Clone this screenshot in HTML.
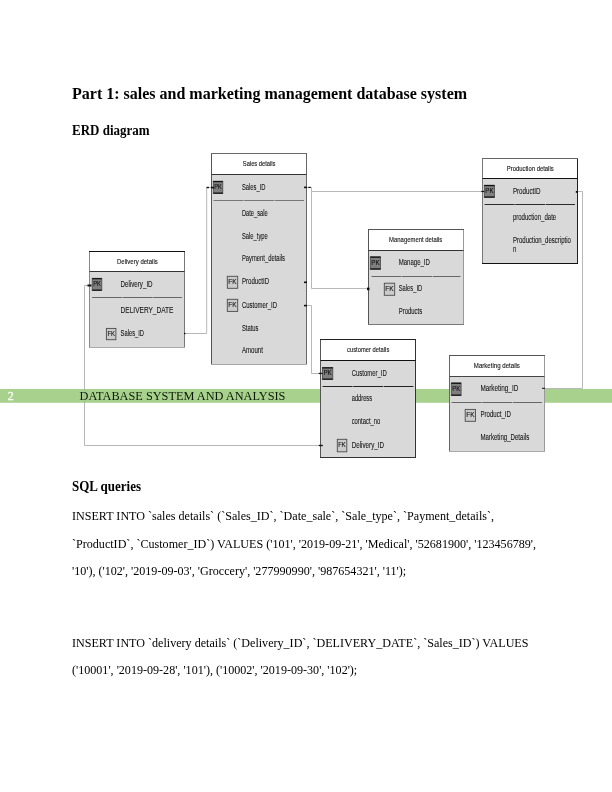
<!DOCTYPE html>
<html><head><meta charset="utf-8">
<style>
html,body{margin:0;padding:0;background:#fff;}
body{width:612px;height:792px;position:relative;overflow:hidden;}
.t{position:absolute;will-change:transform;left:72px;white-space:pre;font-family:"Liberation Serif",serif;color:#000;line-height:1;}
.b{font-weight:bold;}
svg{position:absolute;left:0;top:0;}
svg text{font-family:"Liberation Sans",sans-serif;}
</style></head><body>
<div class="t b" style="top:86.10px;font-size:16px;height:16px;">Part 1: sales and marketing management database system</div>
<div class="t b" style="top:123.91px;font-size:13px;height:13px;transform:scaleY(1.12);transform-origin:0 10.89px;">ERD diagram</div>
<div class="t b" style="top:479.71px;font-size:13px;height:13px;transform:scaleY(1.12);transform-origin:0 10.89px;">SQL queries</div>
<div class="t" style="top:509.95px;font-size:12px;height:12px;transform:scaleX(1.007);transform-origin:0 0;">INSERT INTO `sales details` (`Sales_ID`, `Date_sale`, `Sale_type`, `Payment_details`,</div>
<div class="t" style="top:537.65px;font-size:12px;height:12px;transform:scaleX(1.007);transform-origin:0 0;">`ProductID`, `Customer_ID`) VALUES (&#x27;101&#x27;, &#x27;2019-09-21&#x27;, &#x27;Medical&#x27;, &#x27;52681900&#x27;, &#x27;123456789&#x27;,</div>
<div class="t" style="top:565.25px;font-size:12px;height:12px;transform:scaleX(1.007);transform-origin:0 0;">&#x27;10&#x27;), (&#x27;102&#x27;, &#x27;2019-09-03&#x27;, &#x27;Groccery&#x27;, &#x27;277990990&#x27;, &#x27;987654321&#x27;, &#x27;11&#x27;);</div>
<div class="t" style="top:636.55px;font-size:12px;height:12px;transform:scaleX(1.007);transform-origin:0 0;">INSERT INTO `delivery details` (`Delivery_ID`, `DELIVERY_DATE`, `Sales_ID`) VALUES</div>
<div class="t" style="top:664.25px;font-size:12px;height:12px;transform:scaleX(1.007);transform-origin:0 0;">(&#x27;10001&#x27;, &#x27;2019-09-28&#x27;, &#x27;101&#x27;), (&#x27;10002&#x27;, &#x27;2019-09-30&#x27;, &#x27;102&#x27;);</div>
<svg width="612" height="792" viewBox="0 0 612 792">
<path d="M184.5,333.5 L206.7,333.5 L206.7,187.5 L211.5,187.5" fill="none" stroke="#b8b8b8" stroke-width="1"/>
<path d="M89.5,285.5 L84.5,285.5 L84.5,445.5 L320.5,445.5" fill="none" stroke="#b8b8b8" stroke-width="1"/>
<path d="M306.5,187.5 L311.5,187.5 L311.5,191.5 L482.5,191.5" fill="none" stroke="#b8b8b8" stroke-width="1"/>
<path d="M311.5,191.5 L311.5,288.5 L368.5,288.5" fill="none" stroke="#b8b8b8" stroke-width="1"/>
<path d="M306.5,305.5 L311.5,305.5 L311.5,373.5 L322,373.5" fill="none" stroke="#b8b8b8" stroke-width="1"/>
<path d="M577.5,191.5 L582.5,191.5 L582.5,388.5 L544.5,388.5" fill="none" stroke="#b8b8b8" stroke-width="1"/>
<rect x="0" y="389" width="612" height="13.8" fill="#a9d18e"/>
<line x1="84.5" y1="389" x2="84.5" y2="402.8" stroke="#7a8a80" stroke-opacity="0.25" stroke-width="1"/>
<text x="7.7" y="399.9" font-size="12" fill="#f6fcf2" stroke="#f6fcf2" stroke-width="0.3" style="font-family:'Liberation Serif',serif">2</text>
<text x="79.6" y="399.8" font-size="12.3" fill="#0a1a04" style="font-family:'Liberation Serif',serif">DATABASE SYSTEM AND ANALYSIS</text>
<rect x="211.5" y="153.5" width="95.0" height="21.0" fill="#ffffff"/>
<rect x="211.5" y="174.5" width="95.0" height="190.0" fill="#d9d9d9"/>
<line x1="211.5" y1="153.5" x2="211.5" y2="364.5" stroke="#555" stroke-width="1"/>
<line x1="306.5" y1="153.5" x2="306.5" y2="364.5" stroke="#666" stroke-width="1"/>
<line x1="211.0" y1="364.5" x2="307.0" y2="364.5" stroke="#a8a8a8" stroke-width="1"/>
<line x1="211.0" y1="153.5" x2="307.0" y2="153.5" stroke="#6a6a6a" stroke-width="1"/>
<line x1="211.5" y1="174.5" x2="306.5" y2="174.5" stroke="#333" stroke-width="1"/>
<line x1="213.5" y1="200.5" x2="304" y2="200.5" stroke="#777" stroke-width="1" stroke-dasharray="30,0.6"/>
<text x="242.80" y="165.60" font-size="7.6" fill="#1a1a1a" textLength="32.70" lengthAdjust="spacingAndGlyphs" stroke="#1a1a1a" stroke-width="0.14">Sales details</text>
<rect x="213.3" y="181.2" width="9.5" height="12.300000000000011" fill="#7f7f7f" stroke="#4a4a4a" stroke-width="0.8"/>
<line x1="213.3" y1="181.6" x2="222.8" y2="181.6" stroke="#111" stroke-width="1.2"/>
<line x1="213.3" y1="193.1" x2="222.8" y2="193.1" stroke="#111" stroke-width="1.2"/>
<text x="214.30" y="189.00" font-size="7.6" fill="#111" textLength="7.52" lengthAdjust="spacingAndGlyphs" stroke="#111" stroke-width="0.12">PK</text>
<text x="241.90" y="189.90" font-size="8.3" fill="#161616" textLength="23.59" lengthAdjust="spacingAndGlyphs" stroke="#161616" stroke-width="0.1">Sales_ID</text>
<text x="241.90" y="215.80" font-size="8.3" fill="#161616" textLength="25.92" lengthAdjust="spacingAndGlyphs" stroke="#161616" stroke-width="0.1">Date_sale</text>
<text x="241.90" y="238.80" font-size="8.3" fill="#161616" textLength="25.89" lengthAdjust="spacingAndGlyphs" stroke="#161616" stroke-width="0.1">Sale_type</text>
<text x="241.90" y="261.00" font-size="8.3" fill="#161616" textLength="43.12" lengthAdjust="spacingAndGlyphs" stroke="#161616" stroke-width="0.1">Payment_details</text>
<rect x="227.3" y="276.3" width="10.399999999999977" height="12.0" fill="#cbcbcb" stroke="#4a4a4a" stroke-width="0.9"/>
<text x="228.30" y="284.10" font-size="7.6" fill="#111" textLength="8.39" lengthAdjust="spacingAndGlyphs" stroke="#111" stroke-width="0.12">FK</text>
<text x="241.90" y="284.00" font-size="8.3" fill="#161616" textLength="27.28" lengthAdjust="spacingAndGlyphs" stroke="#161616" stroke-width="0.1">ProductID</text>
<rect x="227.3" y="299.3" width="10.399999999999977" height="12.099999999999966" fill="#cbcbcb" stroke="#4a4a4a" stroke-width="0.9"/>
<text x="228.30" y="307.10" font-size="7.6" fill="#111" textLength="8.39" lengthAdjust="spacingAndGlyphs" stroke="#111" stroke-width="0.12">FK</text>
<text x="241.90" y="307.80" font-size="8.3" fill="#161616" textLength="35.20" lengthAdjust="spacingAndGlyphs" stroke="#161616" stroke-width="0.1">Customer_ID</text>
<text x="241.90" y="330.60" font-size="8.3" fill="#161616" textLength="16.53" lengthAdjust="spacingAndGlyphs" stroke="#161616" stroke-width="0.1">Status</text>
<text x="241.90" y="353.00" font-size="8.3" fill="#161616" textLength="20.98" lengthAdjust="spacingAndGlyphs" stroke="#161616" stroke-width="0.1">Amount</text>
<rect x="89.5" y="251.5" width="95.0" height="20.0" fill="#ffffff"/>
<rect x="89.5" y="271.5" width="95.0" height="76.0" fill="#d9d9d9"/>
<line x1="89.5" y1="251.5" x2="89.5" y2="347.5" stroke="#888" stroke-width="1"/>
<line x1="184.5" y1="251.5" x2="184.5" y2="347.5" stroke="#777" stroke-width="1"/>
<line x1="89.0" y1="347.5" x2="185.0" y2="347.5" stroke="#aaa" stroke-width="1"/>
<line x1="89.0" y1="251.5" x2="185.0" y2="251.5" stroke="#111" stroke-width="1"/>
<line x1="89.5" y1="271.5" x2="184.5" y2="271.5" stroke="#333" stroke-width="1"/>
<line x1="92" y1="297.5" x2="182" y2="297.5" stroke="#666" stroke-width="1" stroke-dasharray="30,0.6"/>
<text x="117.00" y="264.20" font-size="7.6" fill="#1a1a1a" textLength="40.80" lengthAdjust="spacingAndGlyphs" stroke="#1a1a1a" stroke-width="0.14">Delivery details</text>
<rect x="92.2" y="278.3" width="9.599999999999994" height="12.199999999999989" fill="#7f7f7f" stroke="#4a4a4a" stroke-width="0.8"/>
<line x1="92.2" y1="278.7" x2="101.8" y2="278.7" stroke="#111" stroke-width="1.2"/>
<line x1="92.2" y1="290.1" x2="101.8" y2="290.1" stroke="#111" stroke-width="1.2"/>
<text x="93.20" y="286.10" font-size="7.6" fill="#111" textLength="7.62" lengthAdjust="spacingAndGlyphs" stroke="#111" stroke-width="0.12">PK</text>
<text x="120.60" y="287.00" font-size="8.3" fill="#161616" textLength="31.99" lengthAdjust="spacingAndGlyphs" stroke="#161616" stroke-width="0.1">Delivery_ID</text>
<text x="120.60" y="312.80" font-size="8.3" fill="#161616" textLength="52.88" lengthAdjust="spacingAndGlyphs" stroke="#161616" stroke-width="0.1">DELIVERY_DATE</text>
<rect x="106.4" y="328.4" width="9.5" height="11.300000000000011" fill="#cbcbcb" stroke="#4a4a4a" stroke-width="0.9"/>
<text x="107.40" y="336.20" font-size="7.6" fill="#111" textLength="7.49" lengthAdjust="spacingAndGlyphs" stroke="#111" stroke-width="0.12">FK</text>
<text x="120.60" y="336.30" font-size="8.3" fill="#161616" textLength="23.39" lengthAdjust="spacingAndGlyphs" stroke="#161616" stroke-width="0.1">Sales_ID</text>
<rect x="368.5" y="229.5" width="95.0" height="21.0" fill="#ffffff"/>
<rect x="368.5" y="250.5" width="95.0" height="74.0" fill="#d9d9d9"/>
<line x1="368.5" y1="229.5" x2="368.5" y2="324.5" stroke="#555" stroke-width="1"/>
<line x1="463.5" y1="229.5" x2="463.5" y2="324.5" stroke="#999" stroke-width="1"/>
<line x1="368.0" y1="324.5" x2="464.0" y2="324.5" stroke="#777" stroke-width="1"/>
<line x1="368.0" y1="229.5" x2="464.0" y2="229.5" stroke="#555" stroke-width="1"/>
<line x1="368.5" y1="250.5" x2="463.5" y2="250.5" stroke="#333" stroke-width="1"/>
<line x1="371.5" y1="276.5" x2="460.5" y2="276.5" stroke="#666" stroke-width="1" stroke-dasharray="30,0.6"/>
<text x="389.10" y="242.20" font-size="7.6" fill="#1a1a1a" textLength="53.23" lengthAdjust="spacingAndGlyphs" stroke="#1a1a1a" stroke-width="0.14">Management details</text>
<rect x="370.3" y="256.8" width="10.300000000000011" height="12.5" fill="#7f7f7f" stroke="#4a4a4a" stroke-width="0.8"/>
<line x1="370.3" y1="257.2" x2="380.6" y2="257.2" stroke="#111" stroke-width="1.2"/>
<line x1="370.3" y1="268.90000000000003" x2="380.6" y2="268.90000000000003" stroke="#111" stroke-width="1.2"/>
<text x="371.30" y="264.60" font-size="7.6" fill="#111" textLength="8.33" lengthAdjust="spacingAndGlyphs" stroke="#111" stroke-width="0.12">PK</text>
<text x="398.70" y="265.20" font-size="8.3" fill="#161616" textLength="31.20" lengthAdjust="spacingAndGlyphs" stroke="#161616" stroke-width="0.1">Manage_ID</text>
<rect x="384.3" y="283.2" width="10.399999999999977" height="12.100000000000023" fill="#cbcbcb" stroke="#4a4a4a" stroke-width="0.9"/>
<text x="385.30" y="291.00" font-size="7.6" fill="#111" textLength="8.39" lengthAdjust="spacingAndGlyphs" stroke="#111" stroke-width="0.12">FK</text>
<text x="398.70" y="291.30" font-size="8.3" fill="#161616" textLength="23.49" lengthAdjust="spacingAndGlyphs" stroke="#161616" stroke-width="0.1">Sales_ID</text>
<text x="398.70" y="314.00" font-size="8.3" fill="#161616" textLength="23.48" lengthAdjust="spacingAndGlyphs" stroke="#161616" stroke-width="0.1">Products</text>
<rect x="482.5" y="158.5" width="95.0" height="20.0" fill="#ffffff"/>
<rect x="482.5" y="178.5" width="95.0" height="85.0" fill="#d9d9d9"/>
<line x1="482.5" y1="158.5" x2="482.5" y2="263.5" stroke="#777" stroke-width="1"/>
<line x1="577.5" y1="158.5" x2="577.5" y2="263.5" stroke="#222" stroke-width="1"/>
<line x1="482.0" y1="263.5" x2="578.0" y2="263.5" stroke="#111" stroke-width="1"/>
<line x1="482.0" y1="158.5" x2="578.0" y2="158.5" stroke="#666" stroke-width="1"/>
<line x1="482.5" y1="178.5" x2="577.5" y2="178.5" stroke="#111" stroke-width="1"/>
<line x1="484.6" y1="204.5" x2="575" y2="204.5" stroke="#2a2a2a" stroke-width="1" stroke-dasharray="30,0.6"/>
<text x="506.80" y="171.00" font-size="7.6" fill="#1a1a1a" textLength="46.89" lengthAdjust="spacingAndGlyphs" stroke="#1a1a1a" stroke-width="0.14">Production details</text>
<rect x="484.3" y="185.2" width="10.199999999999989" height="12.200000000000017" fill="#7f7f7f" stroke="#4a4a4a" stroke-width="0.8"/>
<line x1="484.3" y1="185.6" x2="494.5" y2="185.6" stroke="#111" stroke-width="1.2"/>
<line x1="484.3" y1="197.0" x2="494.5" y2="197.0" stroke="#111" stroke-width="1.2"/>
<text x="485.30" y="193.00" font-size="7.6" fill="#111" textLength="8.23" lengthAdjust="spacingAndGlyphs" stroke="#111" stroke-width="0.12">PK</text>
<text x="512.90" y="194.10" font-size="8.3" fill="#161616" textLength="27.68" lengthAdjust="spacingAndGlyphs" stroke="#161616" stroke-width="0.1">ProductID</text>
<text x="512.90" y="220.20" font-size="8.3" fill="#161616" textLength="43.31" lengthAdjust="spacingAndGlyphs" stroke="#161616" stroke-width="0.1">production_date</text>
<text x="512.90" y="243.40" font-size="8.3" fill="#161616" textLength="57.98" lengthAdjust="spacingAndGlyphs" stroke="#161616" stroke-width="0.1">Production_descriptio</text>
<text x="512.90" y="252.40" font-size="8.3" fill="#161616" textLength="3.38" lengthAdjust="spacingAndGlyphs" stroke="#161616" stroke-width="0.1">n</text>
<rect x="320.5" y="339.5" width="95.0" height="21.0" fill="#ffffff"/>
<rect x="320.5" y="360.5" width="95.0" height="97.0" fill="#d9d9d9"/>
<line x1="320.5" y1="339.5" x2="320.5" y2="457.5" stroke="#555" stroke-width="1"/>
<line x1="415.5" y1="339.5" x2="415.5" y2="457.5" stroke="#333" stroke-width="1"/>
<line x1="320.0" y1="457.5" x2="416.0" y2="457.5" stroke="#333" stroke-width="1"/>
<line x1="320.0" y1="339.5" x2="416.0" y2="339.5" stroke="#222" stroke-width="1"/>
<line x1="320.5" y1="360.5" x2="415.5" y2="360.5" stroke="#111" stroke-width="1"/>
<line x1="322.6" y1="386.5" x2="413.4" y2="386.5" stroke="#222" stroke-width="1" stroke-dasharray="30,0.6"/>
<text x="347.10" y="352.00" font-size="7.6" fill="#1a1a1a" textLength="42.20" lengthAdjust="spacingAndGlyphs" stroke="#1a1a1a" stroke-width="0.14">customer details</text>
<rect x="322.4" y="367.5" width="10.400000000000034" height="12.0" fill="#7f7f7f" stroke="#4a4a4a" stroke-width="0.8"/>
<line x1="322.4" y1="367.9" x2="332.8" y2="367.9" stroke="#111" stroke-width="1.2"/>
<line x1="322.4" y1="379.1" x2="332.8" y2="379.1" stroke="#111" stroke-width="1.2"/>
<text x="323.40" y="375.30" font-size="7.6" fill="#111" textLength="8.43" lengthAdjust="spacingAndGlyphs" stroke="#111" stroke-width="0.12">PK</text>
<text x="351.70" y="375.90" font-size="8.3" fill="#161616" textLength="35.10" lengthAdjust="spacingAndGlyphs" stroke="#161616" stroke-width="0.1">Customer_ID</text>
<text x="351.70" y="400.90" font-size="8.3" fill="#161616" textLength="20.38" lengthAdjust="spacingAndGlyphs" stroke="#161616" stroke-width="0.1">address</text>
<text x="351.70" y="424.10" font-size="8.3" fill="#161616" textLength="28.61" lengthAdjust="spacingAndGlyphs" stroke="#161616" stroke-width="0.1">contact_no</text>
<rect x="337.3" y="439.3" width="9.5" height="12.5" fill="#cbcbcb" stroke="#4a4a4a" stroke-width="0.9"/>
<text x="338.30" y="447.10" font-size="7.6" fill="#111" textLength="7.49" lengthAdjust="spacingAndGlyphs" stroke="#111" stroke-width="0.12">FK</text>
<text x="351.70" y="448.30" font-size="8.3" fill="#161616" textLength="32.29" lengthAdjust="spacingAndGlyphs" stroke="#161616" stroke-width="0.1">Delivery_ID</text>
<rect x="449.5" y="355.5" width="95.0" height="21.0" fill="#ffffff"/>
<rect x="449.5" y="376.5" width="95.0" height="75.0" fill="#d9d9d9"/>
<line x1="449.5" y1="355.5" x2="449.5" y2="451.5" stroke="#666" stroke-width="1"/>
<line x1="544.5" y1="355.5" x2="544.5" y2="451.5" stroke="#999" stroke-width="1"/>
<line x1="449.0" y1="451.5" x2="545.0" y2="451.5" stroke="#aaa" stroke-width="1"/>
<line x1="449.0" y1="355.5" x2="545.0" y2="355.5" stroke="#555" stroke-width="1"/>
<line x1="449.5" y1="376.5" x2="544.5" y2="376.5" stroke="#444" stroke-width="1"/>
<line x1="451.6" y1="402.5" x2="542" y2="402.5" stroke="#666" stroke-width="1" stroke-dasharray="30,0.6"/>
<text x="473.80" y="368.00" font-size="7.6" fill="#1a1a1a" textLength="46.09" lengthAdjust="spacingAndGlyphs" stroke="#1a1a1a" stroke-width="0.14">Marketing details</text>
<rect x="451.3" y="382.9" width="9.800000000000011" height="12.600000000000023" fill="#7f7f7f" stroke="#4a4a4a" stroke-width="0.8"/>
<line x1="451.3" y1="383.29999999999995" x2="461.1" y2="383.29999999999995" stroke="#111" stroke-width="1.2"/>
<line x1="451.3" y1="395.1" x2="461.1" y2="395.1" stroke="#111" stroke-width="1.2"/>
<text x="452.30" y="390.70" font-size="7.6" fill="#111" textLength="7.82" lengthAdjust="spacingAndGlyphs" stroke="#111" stroke-width="0.12">PK</text>
<text x="480.40" y="391.40" font-size="8.3" fill="#161616" textLength="37.88" lengthAdjust="spacingAndGlyphs" stroke="#161616" stroke-width="0.1">Marketing_ID</text>
<rect x="465.2" y="409.4" width="10.300000000000011" height="11.900000000000034" fill="#cbcbcb" stroke="#4a4a4a" stroke-width="0.9"/>
<text x="466.20" y="417.20" font-size="7.6" fill="#111" textLength="8.29" lengthAdjust="spacingAndGlyphs" stroke="#111" stroke-width="0.12">FK</text>
<text x="480.40" y="417.20" font-size="8.3" fill="#161616" textLength="30.51" lengthAdjust="spacingAndGlyphs" stroke="#161616" stroke-width="0.1">Product_ID</text>
<text x="480.40" y="439.90" font-size="8.3" fill="#161616" textLength="48.82" lengthAdjust="spacingAndGlyphs" stroke="#161616" stroke-width="0.1">Marketing_Details</text>
<rect x="206.5" y="186.8" width="2.5" height="1.4" fill="#111"/>
<rect x="211" y="186.8" width="3" height="1.6" fill="#111"/>
<rect x="87.5" y="284.5" width="4" height="2" fill="#111"/>
<rect x="304" y="186.6" width="3" height="1.6" fill="#111"/>
<rect x="308.3" y="186.8" width="2.5" height="1.2" fill="#111"/>
<rect x="304" y="281.5" width="3" height="1.6" fill="#111"/>
<rect x="304" y="304.8" width="3" height="1.6" fill="#111"/>
<rect x="318.8" y="372.8" width="3.5" height="1.3" fill="#111"/>
<rect x="318.8" y="444.8" width="4" height="1.4" fill="#111"/>
<rect x="367" y="287.6" width="2.5" height="2.6" fill="#111"/>
<rect x="481.3" y="190.9" width="3" height="1.2" fill="#111"/>
<rect x="575.8" y="191" width="2" height="1.8" fill="#111"/>
<rect x="542" y="387.8" width="3" height="1" fill="#111"/>
<rect x="184" y="332.9" width="1.5" height="1.2" fill="#111"/>
</svg>
</body></html>
